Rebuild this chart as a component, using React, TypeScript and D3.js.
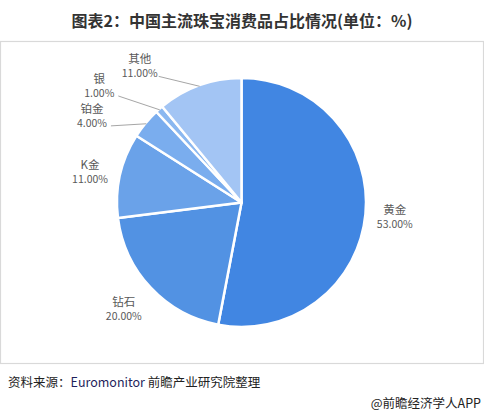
import React from "react";
import * as d3 from "d3";

const categories = ["黄金", "钻石", "K金", "铂金", "银", "其他"];
const values = [53, 20, 11, 4, 1, 11];
const colors = ["#4186e2", "#5292e3", "#6aa2e9", "#7aadee", "#8bb8f0", "#a3c5f4"];
const titleText = "图表2：中国主流珠宝消费品占比情况(单位：%)";
const sourceLabel = "资料来源：";
const sourceText = "Euromonitor";
const sourceTail = " 前瞻产业研究院整理";
const brandText = "@前瞻经济学人APP";

// label layout tweaks (style only): radius & nudge per slice
const labelLayout: Record<string, { r: number; dx: number; dy: number; line: boolean }> = {
  "黄金": { r: 156, dx: -2, dy: 0, line: false },
  "钻石": { r: 156, dx: -4, dy: 0, line: false },
  "K金": { r: 146, dx: -9, dy: 1, line: false },
  "铂金": { r: 150, dx: -34, dy: 9, line: true },
  "银": { r: 150, dx: -43, dy: -4, line: true },
  "其他": { r: 150, dx: -51, dy: 5, line: true },
};

export default function App() {
  const W = 484, H = 415;
  const cx = 241.5, cy = 202.5, R = 124.5;
  const pie = d3.pie<number>().sort(null).value((d) => d);
  const arcs = pie(values);
  const arc = d3.arc<d3.PieArcDatum<number>>().innerRadius(0).outerRadius(R);
  const font = "'Microsoft YaHei', 'Noto Sans CJK SC', sans-serif";

  return (
    <svg width={W} height={H} style={{ position: "absolute", left: 0, top: 0 }} fontFamily={font}>
      <rect x={0} y={0} width={W} height={H} fill="#fff" />
      <text x={242} y={27} textAnchor="middle" fontSize={16} fontWeight="bold" fill="#333">{titleText}</text>
      <rect x={0.5} y={41.5} width={483} height={322} fill="none" stroke="#d9d9d9" strokeWidth={1.2} />
      <g transform={`translate(${cx},${cy})`}>
        {arcs.map((a, i) => (
          <path key={i} d={arc(a) || ""} fill={colors[i]} stroke="#fff" strokeWidth={2.5} strokeLinejoin="round" />
        ))}
        {arcs.map((a, i) => {
          const name = categories[i];
          const L = labelLayout[name];
          const mid = (a.startAngle + a.endAngle) / 2;
          const lx = Math.sin(mid) * L.r + L.dx;
          const ly = -Math.cos(mid) * L.r + L.dy;
          const ex = Math.sin(mid) * (R - 1);
          const ey = -Math.cos(mid) * (R - 1);
          return (
            <g key={"l" + i}>
              {L.line && (
                <line x1={lx + 19} y1={ly + 10} x2={ex} y2={ey} stroke="#a6a6a6" strokeWidth={1} />
              )}
              <text x={lx} y={ly - 3} textAnchor="middle" fontSize={11.5} fill="#595959">{name}</text>
              <text x={lx} y={ly + 11} textAnchor="middle" fontSize={10.5} fill="#595959">{values[i].toFixed(2)}%</text>
            </g>
          );
        })}
      </g>
      <text x={8} y={387} fontSize={12.5} fill="#222">
        {sourceLabel}<tspan fill="#1f1f5c">{sourceText}</tspan>{sourceTail}
      </text>
      <text x={481} y={408} textAnchor="end" fontSize={12.5} fill="#222">{brandText}</text>
    </svg>
  );
}
